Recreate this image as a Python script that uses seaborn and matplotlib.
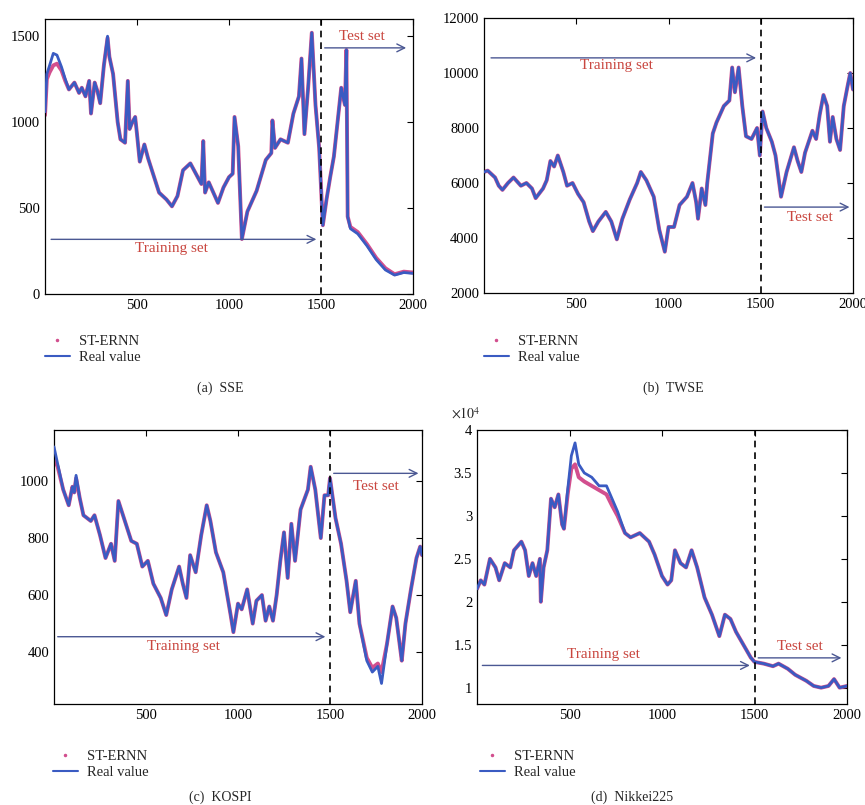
import matplotlib
matplotlib.use("Agg")
import matplotlib.pyplot as plt
import seaborn as sns
import pandas as pd
from matplotlib.lines import Line2D
from matplotlib.ticker import FuncFormatter

# ---- data (index, price) ----
sse_x = [0, 10, 25, 45, 65, 90, 110, 130, 160, 185, 200, 220, 240, 250, 270, 285, 300, 320, 340, 350,
         370, 395, 410, 435, 450, 460, 475, 490, 500, 515, 540, 560, 590, 620, 660, 690, 720, 750, 790, 820,
         850, 860, 870, 890, 940, 970, 1000, 1020, 1030, 1050, 1070, 1100, 1150, 1200, 1230, 1236, 1250, 1280, 1320, 1350,
         1380, 1394, 1410, 1430, 1450, 1470, 1490, 1510, 1530, 1550, 1570, 1590, 1610, 1630, 1638, 1645, 1660, 1700, 1750, 1800,
         1850, 1900, 1950, 2000]
sse_real = [1060, 1280, 1330, 1400, 1390, 1320, 1250, 1190, 1230, 1170, 1200, 1150, 1240, 1050, 1230, 1180, 1110, 1330, 1500, 1380,
            1280, 1000, 900, 880, 1240, 960, 1000, 1030, 930, 770, 870, 790, 690, 590, 550, 510, 570, 720, 760, 700,
            640, 890, 590, 650, 530, 620, 680, 700, 1030, 860, 320, 480, 600, 780, 820, 1010, 850, 900, 880, 1050,
            1150, 1370, 930, 1200, 1520, 1100, 850, 400, 550, 680, 800, 1000, 1200, 1100, 1420, 450, 380, 350, 280, 200,
            140, 110, 125, 120]
sse_pred = [1040, 1250, 1290, 1330, 1340, 1300, 1240, 1190, 1230, 1170, 1200, 1150, 1240, 1050, 1230, 1180, 1110, 1330, 1490, 1380,
            1280, 1000, 900, 880, 1240, 960, 1000, 1030, 930, 770, 870, 790, 690, 590, 550, 510, 570, 720, 760, 700,
            640, 890, 590, 650, 530, 620, 680, 700, 1030, 860, 320, 480, 600, 780, 820, 1010, 850, 900, 880, 1050,
            1150, 1370, 930, 1200, 1520, 1100, 850, 400, 550, 680, 800, 1000, 1200, 1100, 1420, 450, 390, 360, 290, 210,
            150, 115, 130, 125]

twse_x = [0, 20, 60, 80, 100, 130, 160, 200, 230, 260, 280, 320, 340, 360, 380, 400, 430, 450, 480, 510,
          540, 570, 590, 620, 660, 690, 720, 750, 790, 830, 850, 880, 920, 950, 980, 1000, 1030, 1060, 1100, 1130,
          1150, 1160, 1180, 1200, 1210, 1240, 1260, 1300, 1330, 1345, 1360, 1380, 1400, 1420, 1450, 1480, 1495, 1510, 1530, 1560,
          1580, 1610, 1640, 1680, 1700, 1720, 1740, 1780, 1800, 1820, 1840, 1860, 1875, 1890, 1910, 1930, 1950, 1970, 1985, 2000]
twse_real = [6400, 6450, 6200, 5900, 5750, 6000, 6200, 5900, 6000, 5800, 5450, 5800, 6100, 6800, 6600, 7000, 6400, 5900, 6000, 5600,
             5300, 4600, 4250, 4600, 4950, 4600, 3950, 4700, 5400, 6000, 6400, 6100, 5500, 4300, 3500, 4400, 4400, 5200, 5500, 6000,
             5300, 4700, 5800, 5200, 6000, 7800, 8200, 8800, 9000, 10200, 9300, 10200, 8800, 7700, 7600, 8000, 7000, 8600, 8000, 7500,
             7000, 5500, 6400, 7300, 6800, 6400, 7100, 7900, 7600, 8500, 9200, 8800, 7500, 8400, 7600, 7200, 8800, 9500, 10000, 9400]
twse_pred = list(twse_real)

kospi_x = [0, 20, 50, 80, 100, 110, 120, 140, 160, 200, 220, 250, 280, 310, 330, 350, 380, 420, 450, 480,
           510, 540, 580, 610, 640, 680, 700, 720, 740, 770, 800, 830, 850, 880, 920, 960, 975, 1000, 1020, 1050,
           1080, 1100, 1130, 1150, 1170, 1190, 1210, 1230, 1250, 1270, 1290, 1310, 1340, 1380, 1395, 1420, 1450, 1470, 1490, 1500,
           1530, 1560, 1590, 1610, 1640, 1660, 1700, 1730, 1760, 1780, 1810, 1840, 1860, 1880, 1890, 1910, 1940, 1970, 1990, 2000]
kospi_real = [1120, 1060, 970, 915, 980, 960, 1020, 940, 880, 860, 880, 810, 730, 780, 720, 930, 870, 790, 780, 700,
              720, 640, 590, 530, 620, 700, 640, 590, 740, 680, 810, 915, 860, 750, 680, 530, 470, 570, 550, 620,
              500, 580, 600, 510, 560, 510, 600, 720, 820, 660, 850, 720, 900, 970, 1050, 970, 800, 950, 950, 1010,
              870, 780, 650, 540, 650, 500, 370, 330, 350, 290, 430, 560, 520, 420, 370, 500, 620, 730, 770, 740]
kospi_pred = [1080, 1050, 970, 915, 980, 960, 1010, 940, 880, 860, 880, 810, 730, 780, 720, 930, 870, 790, 780, 700,
              720, 640, 590, 530, 620, 700, 640, 590, 740, 680, 810, 915, 860, 750, 680, 530, 470, 570, 550, 620,
              500, 580, 600, 510, 560, 510, 600, 720, 820, 660, 850, 720, 900, 970, 1050, 970, 800, 950, 950, 1010,
              870, 780, 650, 540, 650, 500, 380, 345, 360, 330, 430, 560, 520, 420, 370, 500, 620, 730, 770, 740]

nikkei_x = [0, 20, 40, 70, 100, 120, 150, 180, 200, 240, 260, 280, 300, 320, 340, 345, 360, 380, 400, 420,
            440, 460, 470, 490, 510, 530, 550, 580, 620, 660, 700, 730, 760, 800, 830, 880, 930, 960, 1000, 1030,
            1050, 1070, 1100, 1130, 1160, 1190, 1230, 1270, 1310, 1340, 1370, 1400, 1440, 1480, 1500, 1550, 1600, 1630, 1680, 1720,
            1780, 1820, 1860, 1900, 1930, 1960, 2000]
nikkei_real = [21500, 22500, 22000, 25000, 24000, 22500, 24500, 24000, 26000, 27000, 26000, 23000, 24500, 23000, 25000, 20000, 24000, 26000, 32000, 31000,
               32500, 29000, 28500, 33000, 37000, 38500, 36000, 35000, 34500, 33500, 33500, 32000, 30500, 28000, 27500, 28000, 27000, 25500, 23000, 22000,
               22500, 26000, 24500, 24000, 26000, 24000, 20500, 18500, 16000, 18500, 18000, 16500, 15000, 13500, 13000, 12800, 12500, 12800, 12200, 11500,
               10800, 10200, 10000, 10200, 11000, 10000, 10200]
nikkei_pred = [21500, 22500, 22000, 25000, 24000, 22500, 24500, 24000, 26000, 27000, 26000, 23000, 24500, 23000, 25000, 20000, 24000, 26000, 32000, 31000,
               32500, 29000, 28500, 32500, 35500, 36000, 34500, 34000, 33500, 33000, 32500, 31200, 30000, 28000, 27500, 28000, 27000, 25500, 23000, 22000,
               22500, 26000, 24500, 24000, 26000, 24000, 20500, 18500, 16000, 18500, 18000, 16500, 15000, 13500, 13000, 12800, 12500, 12800, 12200, 11500,
               10800, 10200, 10000, 10200, 11000, 10000, 10200]

BLUE = "#3a5bc2"
PINK = "#d24f8e"
ARROW = "#4b5893"
RED = "#c9463f"

sns.set_style("white")
plt.rcParams["font.family"] = ["Liberation Serif", "DejaVu Serif"]
plt.rcParams["mathtext.fontset"] = "stix"

W, H = 865, 805
fig = plt.figure(figsize=(W / 100, H / 100), dpi=100)


def px_axes(left, top, right, bottom):
    return fig.add_axes([left / W, 1 - bottom / H, (right - left) / W, (bottom - top) / H])


def draw_panel(ax, x, real, pred, ylim, yticks, train_y, train_txt, test_y, test_txt):
    df = pd.DataFrame({"t": x, "real": real, "pred": pred})
    sns.lineplot(data=df, x="t", y="pred", ax=ax, color=PINK, lw=2.8, zorder=2)
    sns.lineplot(data=df, x="t", y="real", ax=ax, color=BLUE, lw=2.0, zorder=3)
    ax.axvline(1500, color="black", lw=1.2, ls=(0, (4, 3)), zorder=4)

    ax.annotate("", xy=(1490, train_y[0]), xytext=(train_y[1], train_y[0]),
                arrowprops=dict(arrowstyle="->", color=ARROW, lw=1.0, mutation_scale=14), zorder=5)
    ax.annotate("", xy=(test_y[1], test_y[0]), xytext=(1505, test_y[0]),
                arrowprops=dict(arrowstyle="->", color=ARROW, lw=1.0, mutation_scale=14), zorder=5)
    ax.text(train_txt[0], train_txt[1], "Training set", color=RED, fontsize=11,
            ha="center", va="center", zorder=6)
    ax.text(test_txt[0], test_txt[1], "Test set", color=RED, fontsize=11,
            ha="center", va="center", zorder=6)

    ax.set_xlim(0, 2000)
    ax.set_ylim(*ylim)
    ax.set_xticks([500, 1000, 1500, 2000])
    ax.set_yticks(yticks)
    ax.set_xlabel("")
    ax.set_ylabel("")
    ax.tick_params(direction="in", top=True, right=True, length=4, width=0.8,
                   labelsize=10.5, colors="black")
    for s in ax.spines.values():
        s.set_color("black")
        s.set_linewidth(0.9)


ax_a = px_axes(45, 19, 413, 294)
draw_panel(ax_a, sse_x, sse_real, sse_pred, (0, 1600), [0, 500, 1000, 1500],
           (318, 18), (688, 265), (1432, 1978), (1720, 1496))

ax_b = px_axes(484, 18, 853, 293)
draw_panel(ax_b, twse_x, twse_real, twse_pred, (2000, 12000), [2000, 4000, 6000, 8000, 10000, 12000],
           (10550, 23), (718, 10270), (5124, 1996), (1765, 4736))

ax_c = px_axes(54, 430, 422, 704)
draw_panel(ax_c, kospi_x, kospi_real, kospi_pred, (218, 1179), [400, 600, 800, 1000],
           (454, 5), (703, 420), (1027, 1996), (1748, 982))

ax_d = px_axes(477, 430, 847, 704)
draw_panel(ax_d, nikkei_x, nikkei_real, nikkei_pred, (8100, 40000),
           [10000, 15000, 20000, 25000, 30000, 35000, 40000],
           (12590, 14), (685, 13860), (13470, 1985), (1743, 14750))
ax_d.yaxis.set_major_formatter(FuncFormatter(lambda v, p: f"{v / 1e4:g}"))
ax_d.text(-0.07, 1.03, r"$\times10^4$", transform=ax_d.transAxes, fontsize=10,
          ha="left", va="bottom")

handles = [Line2D([], [], color=PINK, marker=".", ls="none", markersize=3),
           Line2D([], [], color=BLUE, lw=1.5)]
labels = ["ST-ERNN", "Real value"]
for lx, ty in [(45, 335), (484, 335), (53, 750), (480, 750)]:
    fig.legend(handles, labels, loc="upper left", bbox_to_anchor=(lx / W, 1 - ty / H),
               frameon=False, fontsize=10.5, handlelength=1.7, handletextpad=0.6,
               labelspacing=0.2, borderpad=0, borderaxespad=0)

for cx, cy, txt in [(220, 388, "(a)  SSE"), (673, 388, "(b)  TWSE"),
                    (220, 797, "(c)  KOSPI"), (632, 797, "(d)  Nikkei225")]:
    fig.text(cx / W, 1 - cy / H, txt, ha="center", va="center", fontsize=10)

fig.savefig("out.png", dpi=100)
